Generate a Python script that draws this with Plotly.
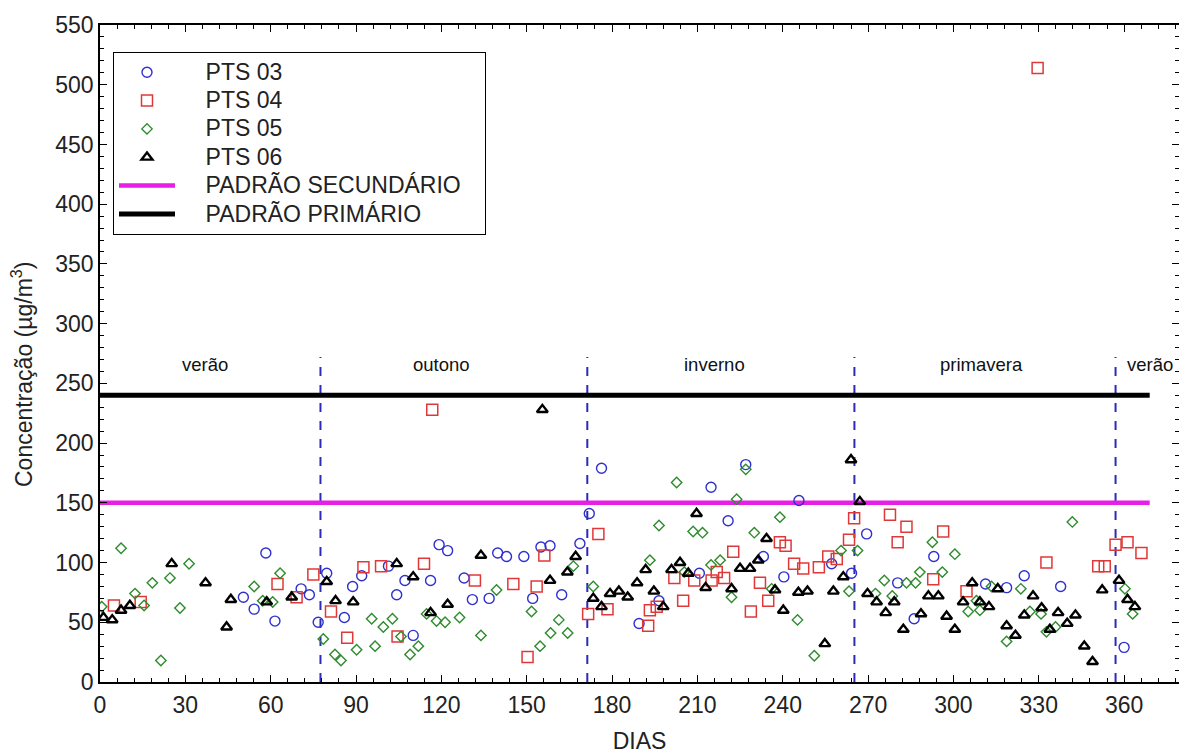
import plotly.graph_objects as go

# ---- data ----
pts03_days = [50.4, 54.2, 58.3, 61.5, 70.7, 73.6, 76.7, 79.7, 85.9, 88.8, 92.0, 101.4, 104.3, 107.2, 110.1,
              116.2, 119.2, 122.2, 128.0, 130.9, 136.8, 139.8, 142.9, 149.0, 152.1, 155.0, 158.2, 162.3,
              168.7, 172.0, 176.3, 189.5, 196.5, 210.7, 214.8, 220.8, 227.0, 233.2, 240.4, 245.7, 257.2,
              264.2, 269.5, 280.4, 286.2, 293.1, 311.3, 318.7, 324.9, 337.7, 360.0]
pts03_vals = [71, 61, 108, 51, 78, 73, 50, 91, 54, 80, 89, 97, 73, 85, 39,
              85, 115, 110, 87, 69, 70, 108, 105, 105, 70, 113, 114, 73,
              116, 141, 179, 49, 68, 91, 163, 135, 182, 105, 88, 152, 99,
              91, 124, 83, 53, 105, 82, 79, 89, 80, 29]

pts04_days = [4.9, 14.3, 62.4, 69.1, 75.0, 81.2, 86.9, 92.6, 98.8, 104.6, 113.9, 116.8, 131.8, 145.3,
              150.3, 153.5, 156.2, 171.6, 175.2, 178.4, 192.7, 193.3, 195.7, 201.9, 205.0, 208.9, 215.0,
              216.8, 219.4, 222.6, 228.8, 232.0, 234.9, 239.0, 241.0, 244.0, 247.2, 252.7, 256.0, 259.0,
              263.3, 265.1, 277.7, 280.4, 283.5, 292.9, 296.4, 304.6, 329.6, 332.7, 350.9, 353.2, 357.0,
              361.2, 366.1]
pts04_vals = [64, 67, 82, 71, 90, 59, 37, 96, 97, 38, 99, 228, 85, 82,
              21, 80, 106, 57, 124, 61, 47, 60, 63, 87, 68, 85, 85,
              92, 87, 109, 59, 83, 68, 117, 114, 99, 95, 96, 105, 103,
              119, 137, 140, 117, 130, 86, 126, 76, 514, 100, 97, 97, 115,
              117, 108]

pts05_days = [0.6, 7.4, 12.3, 15.5, 18.4, 21.4, 24.6, 28.1, 31.3, 54.2, 57.2, 60.7, 63.3, 78.5, 82.6,
              84.7, 90.2, 95.5, 96.7, 99.6, 102.8, 105.8, 109.0, 111.9, 114.8, 118.3, 121.3, 126.4,
              133.9, 139.4, 151.7, 154.7, 158.4, 161.3, 164.4, 166.4, 173.4, 193.3, 196.5, 202.7, 205.4,
              208.5, 211.8, 214.8, 218.0, 222.0, 223.8, 227.0, 230.0, 236.1, 239.0, 245.2, 251.1, 260.5,
              263.3, 266.3, 272.6, 275.7, 278.5, 283.5, 286.7, 288.2, 292.6, 296.1, 300.5, 305.2, 308.1,
              309.3, 313.4, 318.7, 323.7, 326.9, 330.8, 332.7, 335.9, 341.8, 360.3, 363.0]
pts05_vals = [63, 112, 74, 64, 83, 18, 87, 62, 99, 80, 68, 67, 91, 36, 23,
              18, 27, 53, 30, 46, 53, 38, 23, 30, 57, 51, 50, 54,
              39, 77, 59, 30, 41, 52, 41, 97, 80, 102, 131, 167, 92,
              126, 125, 98, 102, 71, 153, 178, 125, 78, 138, 52, 22, 110,
              76, 110, 74, 85, 72, 83, 83, 92, 117, 92, 107, 59, 68,
              60, 80, 34, 78, 59, 57, 42, 46, 134, 78, 57]

pts06_days = [1.2, 4.3, 7.4, 10.5, 25.2, 37.1, 44.5, 46.0, 58.6, 67.4, 79.7, 82.8, 89.0, 104.3, 110.1,
              116.2, 122.2, 133.9, 155.5, 158.2, 164.3, 167.2, 173.4, 176.3, 179.3, 182.4, 185.5, 188.8,
              191.8, 194.7, 198.0, 200.9, 203.9, 206.8, 209.7, 212.9, 222.0, 225.0, 228.5, 231.4, 234.3,
              237.3, 240.2, 245.5, 248.7, 254.8, 257.8, 261.3, 264.0, 267.1, 269.8, 273.0, 276.2, 279.2,
              282.4, 288.6, 291.2, 294.7, 297.6, 300.5, 303.4, 306.6, 309.3, 312.5, 315.6, 318.7, 321.8,
              324.9, 328.0, 331.0, 333.9, 336.8, 340.0, 342.9, 346.0, 348.9, 352.3, 358.2, 361.2, 363.8]
pts06_vals = [54, 52, 60, 64, 99, 83, 46, 69, 67, 71, 84, 68, 67, 99, 88,
              58, 65, 106, 228, 85, 92, 105, 70, 63, 74, 76, 71, 83,
              94, 76, 63, 94, 100, 91, 141, 79, 78, 95, 95, 102, 120,
              77, 60, 75, 76, 32, 76, 88, 186, 151, 74, 67, 58, 67,
              44, 57, 72, 72, 55, 44, 67, 83, 67, 63, 78, 47, 39,
              56, 72, 62, 44, 58, 49, 56, 30, 17, 77, 85, 69, 63]

standard_days = [0, 369]
secondary_standard = 150
primary_standard = 240

season_bounds = [77.5, 171.3, 265.2, 357.0]
season_top = 272
season_names = ["verão", "outono", "inverno", "primavera", "verão"]
season_label_days = [37, 120, 216, 310, 369]
season_label_y = 266

FONT = "Liberation Sans, Arial, sans-serif"
PAD = "\u00a0" * 4
TAIL = "\u00a0" * 3

fig = go.Figure()

def lbl(t):
    return '<span style="font-size:23px">' + PAD + t + TAIL + '</span>'

fig.add_trace(go.Scatter(x=standard_days, y=[secondary_standard] * 2, mode="lines",
                         line=dict(color="#e61ee6", width=4.5), name=lbl("PADRÃO SECUNDÁRIO"),
                         legendrank=5, legendgroup="s"))
fig.add_trace(go.Scatter(x=standard_days, y=[primary_standard] * 2, mode="lines",
                         line=dict(color="#000000", width=5), name=lbl("PADRÃO PRIMÁRIO"),
                         legendrank=6, legendgroup="p"))

fig.add_trace(go.Scatter(x=pts03_days, y=pts03_vals, mode="markers", name=lbl("PTS 03"),
                         marker=dict(symbol="circle-open", size=10, color="#2f2fd0", line=dict(width=1.4)),
                         legendrank=1, legendgroup="a"))
fig.add_trace(go.Scatter(x=pts04_days, y=pts04_vals, mode="markers", name=lbl("PTS 04"),
                         marker=dict(symbol="square-open", size=11, color="#e03838", line=dict(width=1.5)),
                         legendrank=2, legendgroup="b"))
fig.add_trace(go.Scatter(x=pts05_days, y=pts05_vals, mode="markers", name=lbl("PTS 05"),
                         marker=dict(symbol="diamond-open", size=8, color="#2e8b2e", line=dict(width=1.4)),
                         legendrank=3, legendgroup="c"))
fig.add_trace(go.Scatter(x=pts06_days, y=pts06_vals, mode="markers", name=lbl("PTS 06"),
                         marker=dict(symbol="triangle-up-open", size=9.5, color="#000000", line=dict(width=2.4)),
                         legendrank=4, legendgroup="d"))

for d in season_bounds:
    fig.add_shape(type="line", xref="x", yref="y", x0=d, x1=d, y0=0, y1=season_top,
                  line=dict(color="#2b2bb8", width=2, dash="dash"), layer="below")

for name, d in zip(season_names, season_label_days):
    fig.add_annotation(x=d, y=season_label_y, xref="x", yref="y", text=name, showarrow=False,
                       font=dict(family=FONT, size=18.5, color="#111"))

fig.add_annotation(xref="paper", yref="paper", x=(22 - 100) / 1079, y=(682 - 375) / 657,
                   xanchor="center", yanchor="middle",
                   text="Concentração (µg/m<sup>3</sup>)", textangle=-90, showarrow=False,
                   font=dict(family=FONT, size=23, color="#222"))

axis_common = dict(showgrid=False, zeroline=False, showline=True, linecolor="black", linewidth=1.5,
                   ticks="inside", ticklen=7, tickwidth=1.2, tickcolor="black", mirror="allticks",
                   automargin=False)

fig.update_xaxes(range=[0, 379.3], tick0=0, dtick=30,
                 minor=dict(dtick=6, ticks="inside", ticklen=4, tickcolor="black"),
                 tickfont=dict(family=FONT, size=23, color="#222"), ticklabelstandoff=2,
                 title=dict(text="DIAS", font=dict(family=FONT, size=23, color="#222"), standoff=23),
                 **axis_common)
fig.update_yaxes(range=[0, 550], tick0=0, dtick=50,
                 minor=dict(dtick=10, ticks="inside", ticklen=4, tickcolor="black"),
                 tickfont=dict(family=FONT, size=23, color="#222"),
                 **axis_common)

fig.update_layout(
    width=1179, height=754,
    margin=dict(l=100, r=0, t=25, b=72),
    paper_bgcolor="white", plot_bgcolor="white",
    font=dict(family=FONT, color="#222"),
    showlegend=True,
    legend=dict(x=13 / 1079, y=(682 - 52) / 657, xanchor="left", yanchor="top",
                bgcolor="white", bordercolor="black", borderwidth=1,
                font=dict(family=FONT, size=19.5, color="#222"),
                tracegroupgap=0, itemwidth=56, traceorder="normal"),
)

fig.write_html("out.html")
